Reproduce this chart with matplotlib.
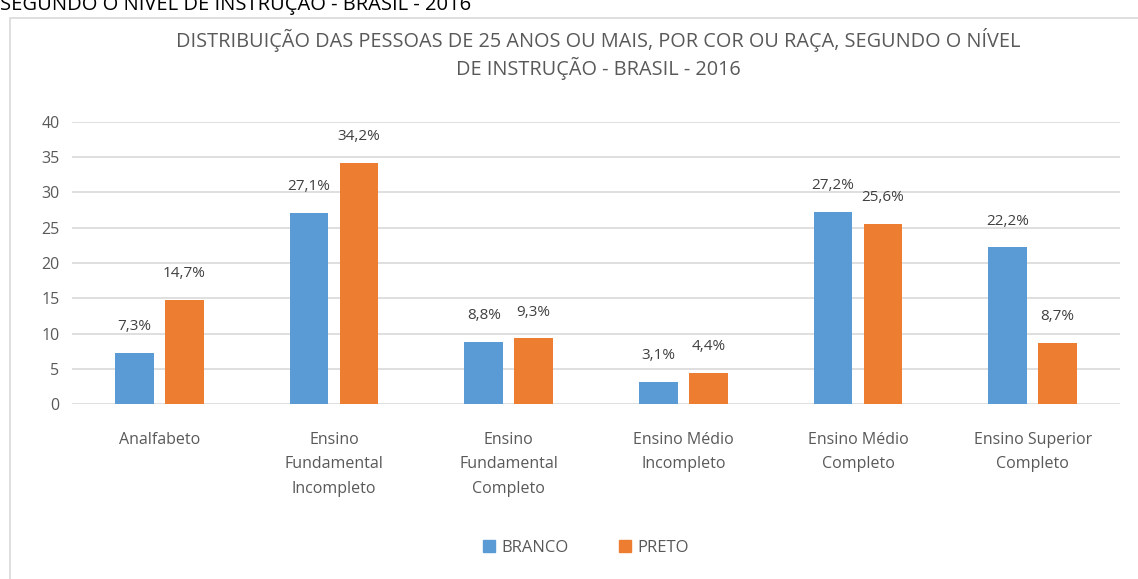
import matplotlib
matplotlib.use("Agg")
import matplotlib.pyplot as plt
from matplotlib.patches import Patch, Rectangle

plt.rcParams["font.family"] = ["Open Sans", "DejaVu Sans"]

categories = [
    "Analfabeto",
    "Ensino\nFundamental\nIncompleto",
    "Ensino\nFundamental\nCompleto",
    "Ensino Médio\nIncompleto",
    "Ensino Médio\nCompleto",
    "Ensino Superior\nCompleto",
]
series_names = ["BRANCO", "PRETO"]
branco = [7.3, 27.1, 8.8, 3.1, 27.2, 22.2]
preto = [14.7, 34.2, 9.3, 4.4, 25.6, 8.7]
yticks = [0, 5, 10, 15, 20, 25, 30, 35, 40]

title = ("DISTRIBUIÇÃO DAS PESSOAS DE 25 ANOS OU MAIS, POR COR OU RAÇA, SEGUNDO O NÍVEL\n"
         "DE INSTRUÇÃO - BRASIL - 2016")
cut_text = "SEGUNDO O NÍVEL DE INSTRUÇÃO - BRASIL - 2016"

W, H = 1138, 579
fig = plt.figure(figsize=(W / 100, H / 100), dpi=100)

# chart frame (partly outside the picture)
fig.patches.append(Rectangle((10 / W, -0.05), 1.2, 1 - 18 / H + 0.05,
                             transform=fig.transFigure, fill=False,
                             edgecolor="#D9D9D9", linewidth=1.2))
fig.text(0, 1 - 10 / H, cut_text, fontsize=14.5, color="black",
         ha="left", va="baseline")

ax = fig.add_axes([72 / W, 1 - 404 / H, (1120 - 72) / W, (404 - 122) / H])

blue, orange = "#5B9BD5", "#ED7D31"
w = 0.223
off = w / 2 + 0.0315
x = list(range(len(categories)))
b1 = ax.bar([i - off for i in x], branco, width=w, color=blue, zorder=3)
b2 = ax.bar([i + off for i in x], preto, width=w, color=orange, zorder=3)

for bars, vals in ((b1, branco), (b2, preto)):
    for r, v in zip(bars, vals):
        ax.annotate(f"{v:.1f}%".replace(".", ","),
                    (r.get_x() + r.get_width() / 2, v),
                    xytext=(0, 19), textcoords="offset points",
                    ha="center", va="center", fontsize=11, color="#404040")

ax.set_xlim(-0.5, len(categories) - 0.5)
ax.set_ylim(0, 40)
ax.set_yticks(yticks)
ax.yaxis.grid(True, color="#D9D9D9", linewidth=1.2, zorder=0)
ax.set_axisbelow(True)
for s in ax.spines.values():
    s.set_visible(False)
ax.tick_params(axis="both", length=0, labelsize=11.5, labelcolor="#595959")
ax.tick_params(axis="y", pad=9)
ax.tick_params(axis="x", pad=20)
ax.set_xticks(x)
ax.set_xticklabels(categories, linespacing=1.7)

fig.text(598 / W, 1 - 54 / H, title, ha="center", va="center",
         fontsize=14.3, color="#595959", linespacing=1.3)

handles = [Patch(color=blue), Patch(color=orange)]
fig.legend(handles, series_names, loc="center", bbox_to_anchor=(586 / W, 1 - 548 / H),
           ncol=2, frameon=False, fontsize=12, labelcolor="#595959",
           handlelength=0.7, handleheight=0.7, columnspacing=3.0, handletextpad=0.4)

fig.savefig("out.png", dpi=100)
